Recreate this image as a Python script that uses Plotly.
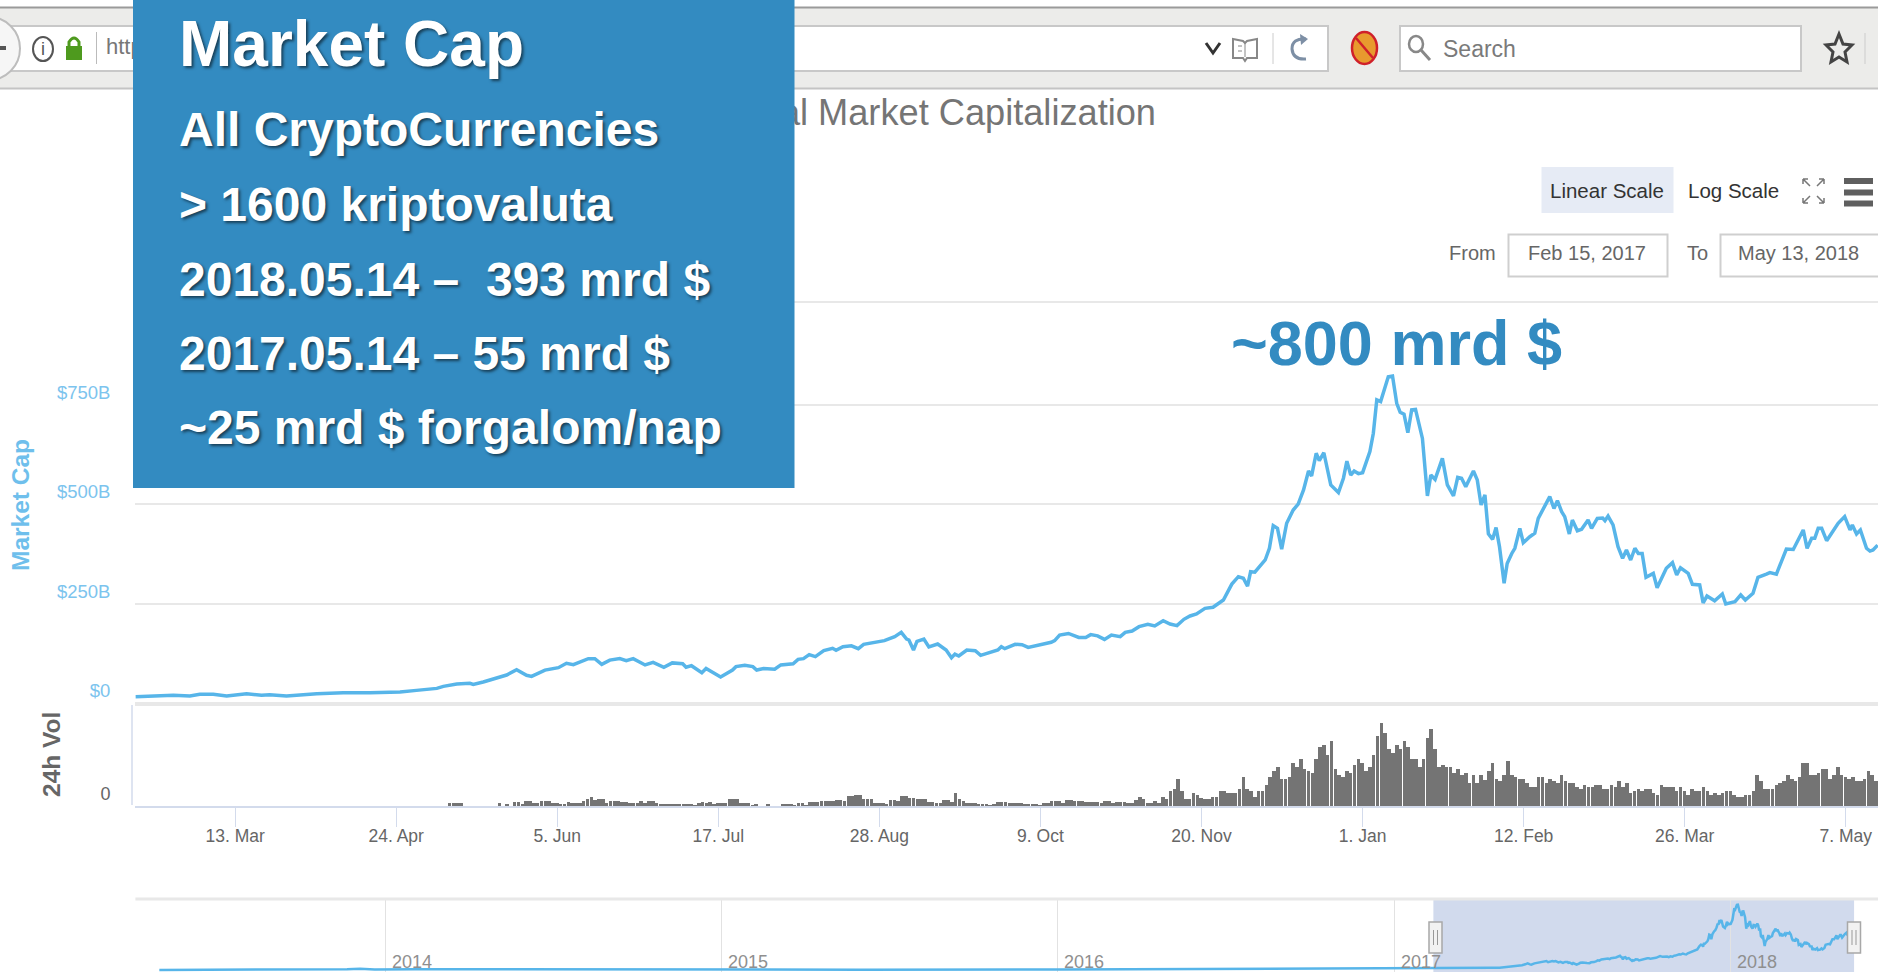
import pandas as pd
import plotly.graph_objects as go

W, H = 1878, 972
BASE = pd.Timestamp("2017-02-15")

# ---------- data ----------
cap_days = [0,6.4,9.9,14.2,16.8,20.3,23.8,29,32.9,35,39.4,47.3,54.2,61.2,69,73.3,78.6,80.3,83.8,87.2,88.1,90.7,93.3,96.8,99.4,102,103.3,106.8,110.3,112.4,114.2,118.1,119.8,121.6,123.7,126.3,128,129.8,132.9,
134.2,135,137.8,140,142.7,143.6,145,147.7,148.8,152.6,155.7,156.6,158.9,161,162,163.8,166.7,168.3,171.5,172.8,174.2,175.7,177.3,179.5,181.8,182.7,184.5,186.7,188.5,189.9,195.3,198,199.7,201.1,201.7,202.9,203.8,205.6,206.9,209.2,211.4,212.8,213.7,214.7,216.8,219,220.4,223.1,224.9,225.8,226.7,229.4,231.2,232.8,238.8,239.7,241,243.3,246,247.8,249.1,250.9,252.7,254.5,256.8,258.1,259.9,261.7,264,265.8,268,269.8,271.6,273.4,
275,276.7,278.9,281,283.7,285.9,287.6,288.9,290,290.8,291.9,294.6,295.7,296.7,297.8,298.9,300.2,301.9,303.2,304.6,305.9,306.7,307.9,308.7,309.9,311.7,313.7,315,315.9,316.9,317.8,318.9,320,321.9,322.8,323.7,324.7,326.7,327.8,328.9,329.8,330.8,331.8,332.8,333.8,335.6,336.9,337.8,338.9,340.8,342.1,343.7,344.8,345.8,346.9,348.9,349.9,350.9,351.9,352.8,353.9,354.8,355.7,356.9,357.7,358.9,359.7,
361,361.9,363.6,364.9,365.8,367.5,368.8,369.9,370.8,371.9,372.7,373.9,374.7,376,377.1,378.8,379.7,381.2,382.6,383.2,384,385.3,386.6,387.8,388.8,389.9,391,391.9,392.9,393.9,395.8,396.8,399.2,400.8,401.9,402.9,404.9,406,407.9,408.8,409.8,411.8,413.8,414.7,417.1,418.6,419.8,421.8,423.1,425.3,426.2,427.9,430.5,432.3,434.9,435.9,437.1,437.9,438.8,439.7,441,444,445.7,447.1,447.7,448.8,449.8,451.4,452.3,453.1,454.3]
cap_billion = [17,19,20.5,19,23,23,19,24.7,20.5,22,19,24.7,27,27,29,33,38,43,49,50.7,48,54,60.7,71.6,85,70.8,68,84,90,101,97.6,112.7,112.7,98.4,109,112.7,107.6,112.7,96.8,
101,103.5,91,102,100,91,95,77.5,88,66.6,84,92.6,96,92.6,84,88,86,97,100,111,112.7,122.7,117.7,132.8,138.6,133.6,142.8,145,137.8,148.7,157.9,168,178.8,162,159.6,134.4,156,162,142,149.5,134.4,115,124,119.4,134.4,132.8,121,130,134.4,142.8,137.8,148.7,147.8,141,153.7,157.9,172,176,166,166,173,170,161,172,168,178.8,182,193,199,194.8,208,199.8,195.6,211.5,
219.9,225,239,241.7,260,300,318.7,314.6,295,331,330,360.6,390,447,440,388,452.8,486,501,536.5,584,571.7,628.7,610,630,549,530,566,609,574,584,577.6,580,632.9,679,762.7,758.5,821,823,754,731.7,726.7,680.6,737.6,739,666,521.5,574,563,616,549,521.5,568,565.9,544.9,584,561.7,498.8,524,426,412.5,441.9,394,302,352,377,390,
440,404,419,427.6,465,494.6,519.8,490,509.7,482,469.5,426,461,434,437.7,461,440,465,466,459.5,471,448.6,394,364.8,385.7,360.6,390,377,377,317,327,291,339.7,354,323,341,327,299.5,298,253,270,258,275,250,256,272.7,260,276.9,317,325,328.8,325,388,387,436,390,415,415,440,440,409,452.8,469.5,436,448.6,426,436,390,383,385.7,398]

vol_start_day = 82
vol_billion = [2.1,2.1,2.1,2.1,0,0,0,0,0,0,0,0,0,2.1,0,1.6,0,3.2,3.2,1.6,3.7,3.7,2.7,2.7,3.7,3.7,3.7,2.1,2.1,1.6,1.6,3.2,2.7,2.7,2.1,4.3,5.3,6.9,4.8,5.9,5.3,2.1,3.7,3.7,3.7,3.2,3.2,2.7,2.1,2.7,3.7,2.1,3.7,3.7,2.1,1.6,1.9,1.9,1.9,1.6,1.9,1.9,1.6,1.6,0.8,2.7,3.2,2.7,3.2,1.6,2.7,2.7,2.7,5.3,5.3,5.3,2.1,2.1,2.1,0.5,1.6,0,0,1.6,0,0,0,1.6,1.6,1.6,0.8,2.1,2.1,0.8,3.2,3.2,3.2,4.3,4.3,4.3,3.7,4.8,4.8,3.7,8,8,8.5,8.5,5.9,5.9,5.9,2.7,2.7,2.7,1.6,4.8,4.8,3.7,8,8,6.4,6.4,5.9,5.9,5.9,3.2,3.2,2.1,2.1,4.8,4.8,3.2,10.1,5.3,3.7,2.7,2.1,2.1,1.1,1.6,1.6,0.8,1.6,3.2,3.2,3.2,2.1,2.1,2.1,2.1,1.1,1.6,1.6,1.6,0.8,2.7,2.7,3.7,3.7,3.7,2.1,4.8,4.8,3.7,3.7,3.7,3.2,3.2,3.2,3.2,2.1,3.7,3.7,2.1,3.2,3.2,3.2,2.1,
2.7,4.8,7.5,5.9,2.7,2.7,4.3,2.1,7.5,5.9,12.3,13.9,21.9,12.3,5.9,5.9,10.7,9.1,6.4,5.9,5.9,7.5,7.5,12.3,12.3,10.1,10.7,10.7,13.9,23.2,13.9,12.3,7.5,12.3,12.3,17.1,23.2,28,31.5,21.9,21.9,23.2,34.4,31.5,37.6,29.4,28,26.4,37.6,47,48.6,40.9,52.1,29.9,24.6,23.2,28,26.4,32.8,37.6,34.4,28,31.5,40.9,56,66.2,58.2,45.4,42.7,48.6,45.4,52.1,47,37.6,37.6,31.5,37.6,54.7,61.4,45.4,31.5,32.8,31.5,31.5,26.7,29.9,25.1,26.7,18.7,25.1,18.7,25.1,20.8,28,34.4,21.9,20.3,25.1,36,
24.6,23.5,21.9,21.9,18.7,15.5,15.5,23.5,23.5,18.7,21.9,20.3,18.7,25.1,20.3,18.7,18.7,15.5,13.9,17.1,15.5,15.5,17.1,17.1,13.9,13.9,17.1,15.5,20.3,15.5,18.7,10.7,12.3,13.9,12.3,13.9,13.9,10.7,9.1,17.1,15.5,15.5,15.5,12.3,15.5,12.3,9.1,13.9,12.3,12.3,15.5,12.3,9.1,10.7,9.1,10.7,12.3,12.3,9.1,7.5,7.5,9.1,9.1,12.3,25.1,20.3,13.9,13.9,13.9,17.1,18.7,20.3,25.1,21.9,20.3,23.5,34.4,34.4,25.1,25.1,26.7,29.9,29.9,21.9,25.1,31.5,25.1,23.5,21.9,23.5,20.3,20.3,21.9,28,25.1,20.3]

hist_dates = ["2013-04-30","2013-09-01","2013-11-01","2013-11-20","2013-12-04","2013-12-20","2014-02-01","2014-06-01","2015-01-01","2015-06-01","2016-01-01","2016-06-15","2017-01-01","2017-02-14"]
hist_cap = [1.5,1.6,3,9,15,8,11,8,5,4,7,12,17,17]

main_tick_vals = [0,250,500,750,1008]
main_tick_text = ["$0","$250B","$500B","$750B",""]
date_tick_vals = ["2017-03-13","2017-04-24","2017-06-05","2017-07-17","2017-08-28","2017-10-09","2017-11-20","2018-01-01","2018-02-12","2018-03-26","2018-05-07"]
date_tick_text = ["13. Mar","24. Apr","5. Jun","17. Jul","28. Aug","9. Oct","20. Nov","1. Jan","12. Feb","26. Mar","7. May"]
year_ticks = ["2014-01-01","2015-01-01","2016-01-01","2017-01-01","2018-01-01"]
year_text = ["2014","2015","2016","2017","2018"]
box_lines = ["Market Cap","All CryptoCurrencies","> 1600 kriptovaluta","2018.05.14 \u2013\u00a0\u00a0393 mrd $","2017.05.14 \u2013 55 mrd $","~25 mrd $ forgalom/nap"]

# ---------- style ----------
BLUE = "#338BC1"; LINE = "#57B5E9"; GRID = "#E8E8E8"; AXIS = "#D3DBEC"
TEXT = "#666666"; BAR = "#747474"; CHROME = "#ECECEA"
SANS = "Liberation Sans, Arial"

to_date = lambda d: BASE + pd.to_timedelta(d, unit="D")
cap_dates = [to_date(d) for d in cap_days]
vol_dates = [to_date(vol_start_day + i) for i in range(len(vol_billion))]
nav_dates = list(pd.to_datetime(hist_dates)) + cap_dates
nav_cap = hist_cap + cap_billion

def ydom(bottom, top):
    return [1 - bottom / H, 1 - top / H]

fig = go.Figure()
fig.add_trace(go.Scatter(x=cap_dates, y=cap_billion, mode="lines", line=dict(color=LINE, width=3.5), xaxis="x", yaxis="y", hoverinfo="skip"))
fig.add_trace(go.Bar(x=vol_dates, y=vol_billion, width=0.93 * 86400000, marker=dict(color=BAR, line=dict(width=0)), xaxis="x2", yaxis="y2", hoverinfo="skip"))
fig.add_trace(go.Scatter(x=nav_dates, y=nav_cap, mode="lines", line=dict(color=LINE, width=2.5), xaxis="x3", yaxis="y3", hoverinfo="skip"))
# text that the blue box partly hides: it has to sit below the box, so it is a text trace
fig.add_trace(go.Scatter(x=[1156, 106], y=[116, 48], mode="text", text=["Total Market Capitalization", "https://"],
                         textposition=["middle left", "middle right"],
                         textfont=dict(family=[SANS, SANS], size=[36.2, 22], color=["#757575", "#777777"]),
                         xaxis="x4", yaxis="y4", hoverinfo="skip"))

X0 = 135.4 / W
x_range = [to_date(0), to_date((W - 135.4) / 3.835)]
fig.update_layout(
    width=W, height=H, margin=dict(l=0, r=0, t=0, b=0), paper_bgcolor="white", plot_bgcolor="rgba(0,0,0,0)",
    showlegend=False, bargap=0,
    xaxis=dict(domain=[X0, 1], range=x_range, anchor="y", showticklabels=False, showgrid=False, ticks="", zeroline=False),
    yaxis=dict(domain=ydom(703.5, 300.7), range=[0, 1012], anchor="x", tickvals=main_tick_vals, ticktext=main_tick_text,
               ticklabelposition="outside top", ticklabelstandoff=24, ticks="", showgrid=True, gridcolor=GRID, gridwidth=2,
               zeroline=True, zerolinecolor=GRID, zerolinewidth=4,
               tickfont=dict(family=SANS, size=18.5, color="#7CC4EE")),
    xaxis2=dict(domain=[X0, 1], range=x_range, anchor="y2", type="date", tickvals=date_tick_vals, ticktext=date_tick_text,
                ticks="outside", ticklen=19, tickcolor=AXIS, tickwidth=1, showgrid=False, showline=True, linecolor=AXIS, linewidth=2,
                zeroline=False, ticklabelstandoff=-6, tickfont=dict(family=SANS, size=17.5, color=TEXT)),
    yaxis2=dict(domain=ydom(806, 706), range=[0, 80], anchor="x2", tickvals=[0], ticktext=["0"], ticklabelposition="outside top",
                ticklabelstandoff=24, ticks="", showgrid=False, zeroline=False,
                tickfont=dict(family=SANS, size=18, color=TEXT)),
    xaxis3=dict(domain=[X0, 1], range=[pd.Timestamp("2013-04-04"), pd.Timestamp("2018-06-10")], anchor="y3", type="date",
                tickvals=year_ticks, showticklabels=False, ticks="", showgrid=True, gridcolor="#E2E2E2", gridwidth=1, zeroline=False),
    yaxis3=dict(domain=ydom(972, 899), range=[-25, 895], anchor="x3", showticklabels=False, ticks="", showgrid=False, zeroline=False),
    xaxis4=dict(domain=[0, 1], range=[0, W], anchor="y4", visible=False),
    yaxis4=dict(domain=[0, 1], range=[H, 0], anchor="x4", visible=False),
)

# ---------- helpers: browser chrome and slide decoration in picture pixels ----------
shapes, notes = [], []
def rect(x0, y0, x1, y1, fill="rgba(0,0,0,0)", line=None, lw=1, layer="below"):
    shapes.append(dict(type="rect", xref="x4", yref="y4", x0=x0, y0=y0, x1=x1, y1=y1, fillcolor=fill,
                       line=dict(color=line or "rgba(0,0,0,0)", width=lw if line else 0), layer=layer))
def oval(x0, y0, x1, y1, fill="rgba(0,0,0,0)", line=None, lw=1, layer="below"):
    shapes.append(dict(type="circle", xref="x4", yref="y4", x0=x0, y0=y0, x1=x1, y1=y1, fillcolor=fill,
                       line=dict(color=line or "rgba(0,0,0,0)", width=lw if line else 0), layer=layer))
def path(d, line=None, lw=1, fill="rgba(0,0,0,0)", layer="below"):
    shapes.append(dict(type="path", xref="x4", yref="y4", path=d, fillcolor=fill,
                       line=dict(color=line or "rgba(0,0,0,0)", width=lw if line else 0), layer=layer))
def note(x, y, text, size, color=TEXT, family=SANS, anchor="center", **kw):
    notes.append(dict(xref="x4", yref="y4", x=x, y=y, text=text, showarrow=False, xanchor=anchor, yanchor="middle",
                      font=dict(family=family, size=size, color=color, **kw.pop("font", {})), **kw))

# browser toolbar
rect(0, 8, W, 88, fill=CHROME)
path(f"M0 7.5 L{W} 7.5", line="#9A9A9A", lw=2)
path(f"M0 88.5 L{W} 88.5", line="#C4C4C4", lw=2)
rect(-5, 26, 1328, 71, fill="white", line="#C8C8C8", lw=2)
rect(1400, 26, 1801, 71, fill="white", line="#C8C8C8", lw=2)
oval(-42, 17, 20, 80, fill="#F6F6F6", line="#BDBDBD", lw=2)
rect(0, 46, 6, 50, fill="#555555")
oval(33, 37, 53, 61, fill="white", line="#555555", lw=2)
note(43, 49, "i", 18, color="#555555")
rect(66, 46, 82, 60, fill="#4E9A1E")
path("M69 46 L69 42 Q74 34 79 42 L79 46", line="#4E9A1E", lw=3)
path("M96.5 32 L96.5 64", line="#BBBBBB", lw=1)
path("M1206 43 L1213 53 L1220 43", line="#333333", lw=3)
path("M1233 39 L1243 41 L1245 43 L1247 41 L1257 39 L1257 58 L1247 58 L1245 61 L1243 58 L1233 58 Z", line="#888888", lw=2)
path("M1238 46 L1242 46 M1238 51 L1242 51", line="#888888", lw=1)
path("M1245 43 L1245 57", line="#888888", lw=1)
path("M1273 33 L1273 64", line="#CCCCCC", lw=1)
path("M1306 39 Q1292 38 1292 49 Q1293 60 1306 59", line="#7D8FA5", lw=3)
path("M1300 34 L1308 39 L1301 45 Z", fill="#7D8FA5")
oval(1352, 32, 1377, 64, fill="#E89A2E", line="#D0202A", lw=2.5)
path("M1356 38 L1373 58", line="#D0202A", lw=2.5)
oval(1409, 36, 1423, 52, line="#888888", lw=2.5)
path("M1421 50 L1430 60", line="#888888", lw=3)
note(1441, 49, "Search", 23, color="#7A7A7A", anchor="left")
path("M1839 34 L1843 44 L1852 45 L1845 52 L1847 62 L1839 57 L1831 62 L1833 52 L1826 45 L1835 44 Z", line="#444444", lw=3)
path("M1865 33 L1865 64", line="#CCCCCC", lw=1)

# chart controls
rect(1541.5, 167, 1673.5, 213, fill="#E6EBF5")
note(1607, 190, "Linear Scale", 20.5, color="#333333")
note(1733, 190, "Log Scale", 20.5, color="#333333")
for p in ["M1803 179 L1810 186 M1803 179 L1803 184 M1803 179 L1808 179",
          "M1824 179 L1817 186 M1824 179 L1824 184 M1824 179 L1819 179",
          "M1803 203 L1810 196 M1803 203 L1803 198 M1803 203 L1808 203",
          "M1824 203 L1817 196 M1824 203 L1824 198 M1824 203 L1819 203"]:
    path(p, line="#777777", lw=1.5)
for top in (178, 189.5, 200.5):
    rect(1844, top, 1873, top + 6, fill="#5F5F5F")
note(1472, 253, "From", 20)
rect(1508.5, 234.5, 1667.5, 276.5, fill="white", line="#CFCFCF", lw=2)
note(1587, 253, "Feb 15, 2017", 20)
note(1697, 253, "To", 20)
rect(1720.5, 234.5, 1890, 276.5, fill="white", line="#CFCFCF", lw=2)
note(1798, 253, "May 13, 2018", 20)

# left axis lines and titles
path("M132 705 L132 805", line=AXIS, lw=1.5)
note(20, 505, "Market Cap", 24.5, color="#6FBFEC", textangle=-90, font=dict(weight="bold"))
note(51, 755, "24h Vol", 24.5, color=TEXT, textangle=-90, font=dict(weight="bold"))

# navigator
rect(135.4, 897.5, W, 900.5, fill=GRID)
shapes.append(dict(type="rect", xref="x3", yref="y3 domain", x0="2017-02-12", x1="2018-05-15", y0=0, y1=1,
                   fillcolor="rgba(102,133,194,0.3)", line=dict(width=0), layer="below"))
for date, label in zip(year_ticks, year_text):
    notes.append(dict(xref="x3", yref="y4", x=date, y=961.5, text=label, showarrow=False, xanchor="left", xshift=4, yanchor="middle",
                      font=dict(family=SANS, size=18, color="#8F8F8F")))
for cx in (1435.5, 1854):
    rect(cx - 6.5, 922, cx + 6.5, 953, fill="#F2F2F2", line="#A8A8A8", lw=1.5, layer="above")
    for dx in (-2, 2):
        path(f"M{cx + dx} 930 L{cx + dx} 945", line="#999999", lw=1, layer="above")

# slide overlay
rect(133, 0, 794.5, 488, fill=BLUE, layer="above")
SHADOW = "2px 2px 3px rgba(0,0,0,0.55)"
for y, size, text in zip([44, 129, 204, 279, 353, 427], [64, 48, 48, 48, 48, 48], box_lines):
    note(177, y, f"<b>{text}</b>", size, color="white", anchor="left", font=dict(shadow=SHADOW))
note(1396, 343, "<b>~800 mrd $</b>", 63, color=BLUE)

fig.update_layout(shapes=shapes, annotations=notes)
fig.write_html("out.html", config=dict(displayModeBar=False),
               post_script="document.body.style.margin='0';document.body.style.overflow='hidden';")
